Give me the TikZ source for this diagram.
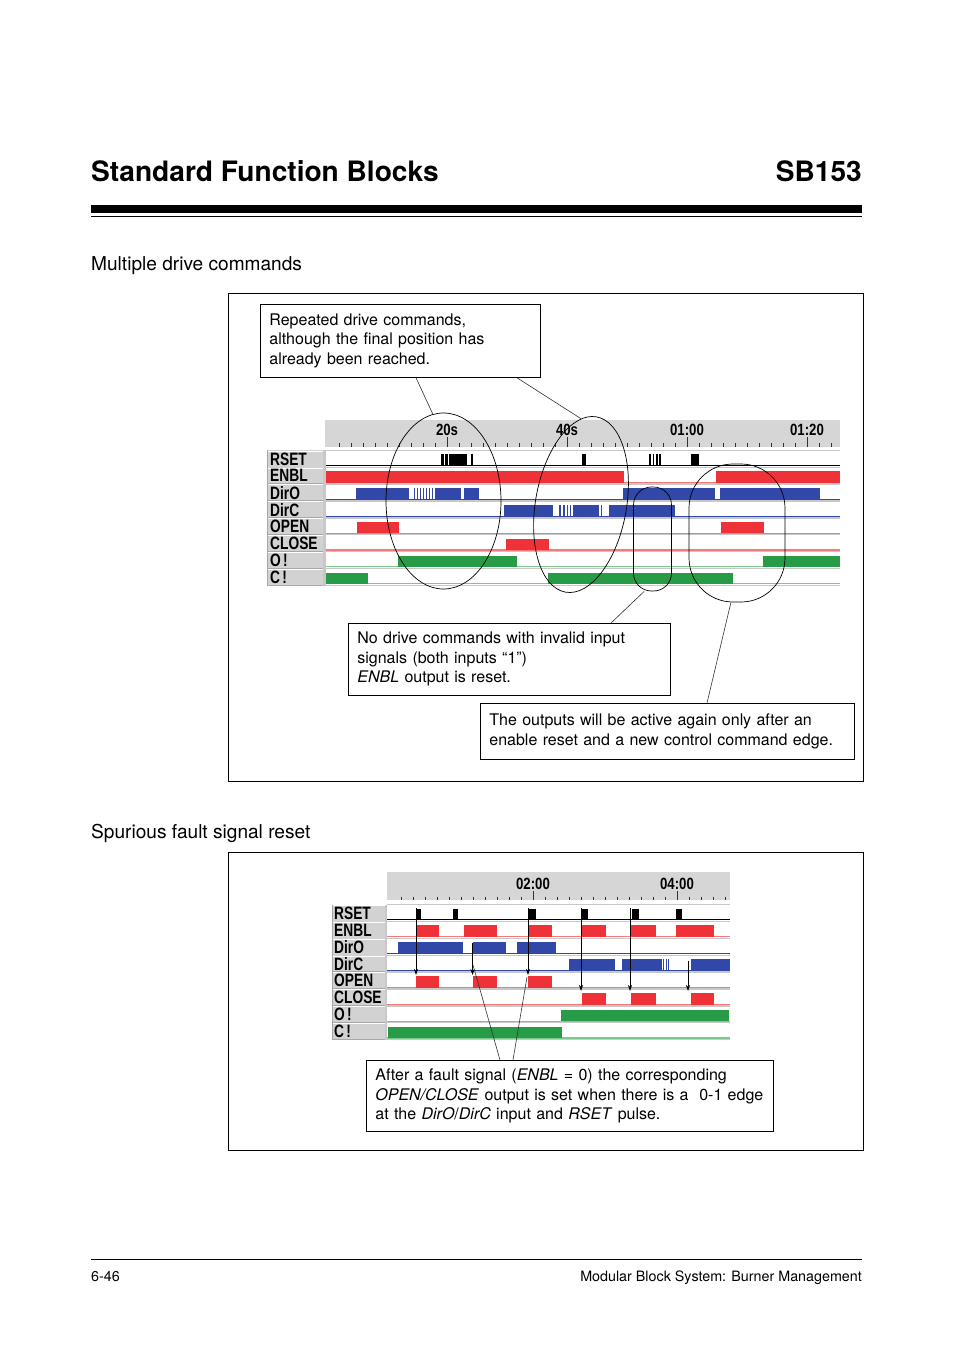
\documentclass[tikz,border=0pt]{standalone}
\usepackage{fontspec}
\setmainfont{TeX Gyre Heros}
\newfontfamily\chartfont{Liberation Sans}
\usetikzlibrary{shapes.geometric,arrows.meta,calc}
\definecolor{sigred}{HTML}{EE3238}
\definecolor{sigblue}{HTML}{3248A8}
\definecolor{siggreen}{HTML}{289B46}
\definecolor{hdrgrey}{HTML}{D6D6D6}
\definecolor{cellgrey}{HTML}{D2D2D2}
\definecolor{cellline}{HTML}{A8A8A8}
\definecolor{sepgrey}{HTML}{C8C8C8}
\definecolor{lightred}{HTML}{F27A7A}
\definecolor{lightgreen}{HTML}{7CC88E}
\definecolor{tickc}{HTML}{303030}
\newcommand\sigbars[3]{\foreach \a/\b in {#3}{\fill[#2] (\a,#1+4) rectangle (\b,#1+15.5);}}
\newcommand\pulses[2]{\foreach \a/\b in {#2}{\fill[black] (\a,#1+4) rectangle (\b,#1+15);}}
\tikzset{
  lab/.style={font=\chartfont\bfseries\fontsize{16}{16}\selectfont, inner sep=0, anchor=west},
  tlab/.style={font=\chartfont\bfseries\fontsize{15.5}{15.5}\selectfont, inner sep=0},
  callout/.style={draw, line width=0.8pt, fill=white, anchor=north west, align=left,
    inner xsep=9pt, inner ysep=0pt, font=\fontsize{16}{19.5}\selectfont},
  ring/.style={draw, line width=0.7pt},
  leader/.style={draw, line width=0.6pt, black!80},
  sigarrow/.style={-{Stealth[length=6pt,width=4pt]}, line width=0.7pt},
  frame/.style={draw, line width=0.8pt}
}
\begin{document}
\begin{tikzpicture}[x=1pt,y=-1pt]
\useasboundingbox (0,0) rectangle (954,1351);
\fill[white] (0,0) rectangle (954,1351);

% page header
\node[font=\fontsize{28.1}{28}\selectfont\bfseries, anchor=base west, inner sep=0] (title) at (91,182) {Standard Function Blocks};
\node[font=\fontsize{28.1}{28}\selectfont\bfseries, anchor=base east, inner sep=0] (code) at (862,182) {SB153};
\fill (91,205) rectangle (862,213);
\draw[line width=1pt] (91,216) -- (862,216);

% section 1
\node[font=\fontsize{19.1}{19}\selectfont, anchor=base west, inner sep=0] (sec1) at (91,270) {Multiple drive commands};
\draw[frame] (228,293) rectangle (863,781);

% ---- top chart ----
\fill[hdrgrey] (325,420) rectangle (840,447);
\foreach \x in {339,351,...,831} \draw[tickc, line width=0.9pt] (\x,443) -- (\x,446.5);
\foreach \x in {447,567,687,807} \draw[tickc, line width=0.9pt] (\x,437) -- (\x,446.5);
\node[tlab] (h1) at (447,430) {\scalebox{0.85}[1.05]{20s}};
\node[tlab] (h2) at (567,430) {\scalebox{0.85}[1.05]{40s}};
\node[tlab] (h3) at (687,430) {\scalebox{0.85}[1.05]{01:00}};
\node[tlab] (h4) at (807,430) {\scalebox{0.85}[1.05]{01:20}};
\foreach \i/\lb/\bc in {0/RSET/black,1/ENBL/lightred,2/DirO/sigblue,3/DirC/sigblue,4/OPEN/lightred,5/CLOSE/lightred,6/{O\,!}/lightgreen,7/{C\,!}/lightgreen}{
  \pgfmathsetmacro\t{450.3+16.9*\i}
  \fill[cellgrey] (267,\t) rectangle (323,\t+16.9);
  \draw[cellline] (267,\t+16.4) -- (323,\t+16.4);
  \draw[white] (267,\t+0.5) -- (323,\t+0.5);
  \draw[sepgrey, line width=1.3pt] (326,\t) -- (840,\t);
  \draw[\bc, line width=1.1pt] (326,\t+15.2) -- (840,\t+15.2);
  \node[lab] (ta\i) at (270,\t+8.6) {\scalebox{0.86}[1.12]{\lb}};
}
\draw[sepgrey, line width=1.3pt] (326,585.5) -- (840,585.5);
\fill[sepgrey] (323,450.3) rectangle (326,585.5);
\draw[cellline] (267,450.3) -- (267,585.5);

\pulses{450.3}{441/443.5, 445/447.5, 449/467, 471/472.5, 582/586, 649/650.5, 652.5/654, 656/657.5, 659/660.5, 691/699}
\sigbars{467.2}{sigred}{326/624, 716/840}
\sigbars{484.1}{sigblue}{356/409, 414/415, 417/418, 420/421, 423/424, 426/427, 429/430, 432/433, 435/461, 464/479, 623/715, 720/820}
\sigbars{501.0}{sigblue}{504/553, 559/560.5, 563/564.5, 566.5/568, 569.5/571, 573/599, 601/602, 609/675}
\sigbars{517.9}{sigred}{357/399, 721/764}
\sigbars{534.8}{sigred}{506/549}
\sigbars{551.7}{siggreen}{398/517, 763/840}
\sigbars{568.6}{siggreen}{326/368, 548/733}

% marks
\node[ring, ellipse, minimum width=115pt, minimum height=176pt, inner sep=0] (e1) at (443.5,501) {};
\node[ring, ellipse, minimum width=91pt, minimum height=178pt, inner sep=0, rotate=-10] (e2) at (581,504.5) {};
\node[ring, rounded corners=18pt, minimum width=38pt, minimum height=104pt, inner sep=0] (e3) at (652.5,539) {};
\node[ring, rounded corners=44pt, minimum width=96pt, minimum height=138pt, inner sep=0] (e4) at (737,533) {};

% callouts
\node[callout, text width=262pt, minimum width=280pt, minimum height=73pt] (b1) at (260,304)
  {Repeated drive commands,\\although the final position has\\already been reached.};
\node[callout, text width=304pt, minimum width=322pt, minimum height=72pt] (b2) at (348,623)
  {No drive commands with invalid input\\signals (both inputs “1”)\\\textit{ENBL} output is reset.};
\node[callout, text width=356pt, minimum width=374pt, minimum height=56pt] (b3) at (480,703)
  {\mbox{The outputs will be active again only after an}\\\mbox{enable reset and a new control command edge.}};

\draw[leader] ([xshift=156pt]b1.south west) -- (e1.97.6);
\draw[leader] ([xshift=257pt]b1.south west) -- (e2.100);
\draw[leader] ([xshift=263pt]b2.north west) -- (e3.261);
\draw[leader] ([xshift=227pt]b3.north west) -- (e4.265);

% section 2
\node[font=\fontsize{19.1}{19}\selectfont, anchor=base west, inner sep=0] (sec2) at (91,838) {Spurious fault signal reset};
\draw[frame] (228,852) rectangle (863,1150);

% ---- bottom chart ----
\fill[hdrgrey] (387,872) rectangle (730,900);
\foreach \x in {401,413,...,725} \draw[tickc, line width=0.9pt] (\x,896.5) -- (\x,900);
\foreach \x in {533,677} \draw[tickc, line width=0.9pt] (\x,891) -- (\x,900);
\node[tlab] (g1) at (533,884) {\scalebox{0.85}[1.05]{02:00}};
\node[tlab] (g2) at (677,884) {\scalebox{0.85}[1.05]{04:00}};
\foreach \i/\lb/\bc in {0/RSET/black,1/ENBL/lightred,2/DirO/sigblue,3/DirC/sigblue,4/OPEN/lightred,5/CLOSE/lightred,6/{O\,!}/lightgreen,7/{C\,!}/lightgreen}{
  \pgfmathsetmacro\t{904.5+16.9*\i}
  \fill[cellgrey] (332,\t) rectangle (385,\t+16.9);
  \draw[cellline] (332,\t+16.4) -- (385,\t+16.4);
  \draw[white] (332,\t+0.5) -- (385,\t+0.5);
  \draw[sepgrey, line width=1.3pt] (387,\t) -- (730,\t);
  \draw[\bc, line width=1.1pt] (387,\t+15.2) -- (730,\t+15.2);
  \node[lab] (ba\i) at (334,\t+8.6) {\scalebox{0.86}[1.12]{\lb}};
}
\draw[sepgrey, line width=1.3pt] (387,1039.7) -- (730,1039.7);
\fill[sepgrey] (385,904.5) rectangle (387,1039.7);
\draw[cellline] (332,904.5) -- (332,1039.7);

\pulses{904.5}{416/420.5, 453/458, 528/536, 582/588, 632/639, 676/682}
\sigbars{921.4}{sigred}{416/439, 464/497, 528/552, 582/606, 631/656, 676/714}
\sigbars{938.3}{sigblue}{398/463, 473/506, 517/556}
\sigbars{955.2}{sigblue}{569/615, 622/662, 663/664, 665.5/666.5, 668/669, 691/730}
\sigbars{972.1}{sigred}{416/439, 473/497, 528/552}
\sigbars{989.0}{sigred}{582/606, 631/656, 691/714}
\sigbars{1005.9}{siggreen}{561/729}
\sigbars{1022.8}{siggreen}{388/562}

\draw[sigarrow] (416,908) -- (416,975);
\draw[sigarrow] (472.5,943) -- (472.5,975);
\draw[sigarrow] (528,908) -- (528,975);
\draw[sigarrow] (581,908) -- (581,991);
\draw[sigarrow] (630,908) -- (630,991);
\draw[sigarrow] (688,961) -- (688,991);

\coordinate (q1) at (473,965);
\coordinate (q2) at (527,977);
\node[callout, text width=389pt, minimum width=407pt, minimum height=71pt] (b4) at (366,1060)
  {\mbox{After a fault signal (\textit{ENBL} = 0) the corresponding}\\
   \mbox{\textit{OPEN/CLOSE} output is set when there is a\ \ 0-1 edge}\\
   \mbox{at the \textit{DirO}/\textit{DirC} input and \textit{RSET} pulse.}};
\draw[leader] ([xshift=134pt]b4.north west) -- (q1);
\draw[leader] ([xshift=147pt]b4.north west) -- (q2);

% footer
\draw[line width=0.6pt] (91,1259) -- (862,1259);
\node[font=\fontsize{14.3}{14}\selectfont, anchor=base west, inner sep=0] (pg) at (91,1281) {6-46};
\node[font=\fontsize{14.3}{14}\selectfont, anchor=base east, inner sep=0] (ft) at (862,1281) {Modular Block System: Burner Management};
\end{tikzpicture}
\end{document}
